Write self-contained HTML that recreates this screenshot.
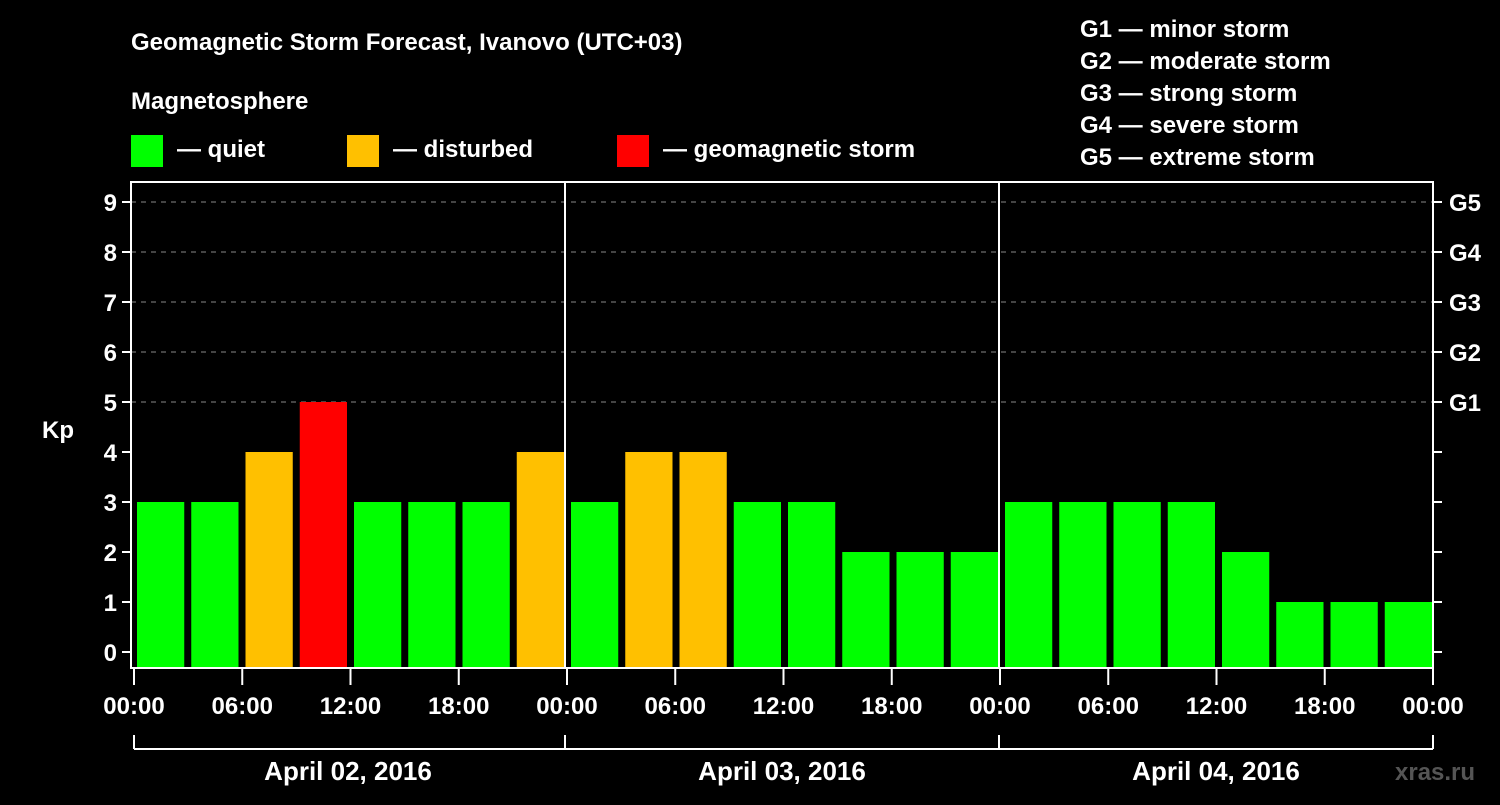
<!DOCTYPE html>
<html><head><meta charset="utf-8"><style>
body{margin:0;background:#000;}
svg text{font-family:"Liberation Sans",Arial,sans-serif;font-weight:bold;fill:#fff;}
</style></head><body>
<svg width="1500" height="800" viewBox="0 0 1500 800">
<rect width="1500" height="800" fill="#000"/>
<text x="131" y="50" font-size="24">Geomagnetic Storm Forecast, Ivanovo (UTC+03)</text>
<text x="131" y="109" font-size="24">Magnetosphere</text>
<g><rect x="131" y="135" width="32" height="32" fill="#00ff00"/><text x="177" y="157" font-size="24">— quiet</text></g>
<g><rect x="347" y="135" width="32" height="32" fill="#ffc000"/><text x="393" y="157" font-size="24">— disturbed</text></g>
<g><rect x="617" y="135" width="32" height="32" fill="#ff0000"/><text x="663" y="157" font-size="24">— geomagnetic storm</text></g>
<g font-size="24">
<text x="1080" y="37">G1 — minor storm</text>
<text x="1080" y="69">G2 — moderate storm</text>
<text x="1080" y="101">G3 — strong storm</text>
<text x="1080" y="133">G4 — severe storm</text>
<text x="1080" y="165">G5 — extreme storm</text>
</g>
<text x="42" y="438" font-size="24">Kp</text>
<text x="1395" y="780" font-size="24" fill="#555" style="fill:#555">xras.ru</text>
<g id="grid"></g><g id="bars"></g><g id="axes"></g>
</svg>
<script>
const kpValues=[3,3,4,5,3,3,3,4,3,4,4,3,3,2,2,2,3,3,3,3,2,1,1,1];
const yTicks=[0,1,2,3,4,5,6,7,8,9];
const gLabels=["G1","G2","G3","G4","G5"];
const gLevels=[5,6,7,8,9];
const xTickLabels=["00:00","06:00","12:00","18:00","00:00","06:00","12:00","18:00","00:00","06:00","12:00","18:00","00:00"];
const dayLabels=["April 02, 2016","April 03, 2016","April 04, 2016"];
const L=131,R=1433,T=182,B=668,NS=24;
const sw=(R-L)/NS;
const y=v=>652-v*50;
const xs=i=>L+i*sw;
const ns="http://www.w3.org/2000/svg";
function mk(tag,attrs,parent,txt){const e=document.createElementNS(ns,tag);for(const k in attrs)e.setAttribute(k,attrs[k]);if(txt!=null)e.textContent=txt;document.getElementById(parent).appendChild(e);return e;}
const col=v=>v>=5?"#ff0000":(v>=4?"#ffc000":"#00ff00");
yTicks.forEach(t=>{
 if(t>=5){const g=mk("line",{x1:L,x2:R,y1:y(t),y2:y(t),stroke:"#888","stroke-dasharray":"5,5","stroke-width":1},"grid");
 
 }
 mk("line",{x1:L-9,x2:L,y1:y(t),y2:y(t),stroke:"#fff","stroke-width":2},"axes");
 mk("line",{x1:R,x2:R+9,y1:y(t),y2:y(t),stroke:"#fff","stroke-width":2},"axes");
 const lb=mk("text",{x:L-14,y:y(t)+9,"font-size":24,"text-anchor":"end"},"axes",String(t));
 
 
});
gLevels.forEach((lv,i)=>{const t=mk("text",{x:R+16,y:y(lv)+9,"font-size":24},"axes",gLabels[i]);
 
 });
kpValues.forEach((v,i)=>{
 const r=mk("rect",{x:xs(i)+6,y:y(v),width:sw-7,height:B-y(v),fill:col(v)},"bars");
 
 
});
mk("rect",{x:L,y:T,width:R-L,height:B-T,fill:"none",stroke:"#fff","stroke-width":2},"axes");
[1,2].forEach(d=>mk("line",{x1:xs(d*8),x2:xs(d*8),y1:T,y2:B,stroke:"#fff","stroke-width":2},"axes"));
xTickLabels.forEach((lab,i)=>{
 const x=L+3+i*2*sw*(R-L-3)/(R-L);
 mk("line",{x1:x,x2:x,y1:B,y2:685,stroke:"#fff","stroke-width":2},"axes");
 const t=mk("text",{x:x,y:714,"font-size":24,"text-anchor":"middle"},"axes",lab);
 
 
});
mk("line",{x1:L+3,x2:R,y1:749,y2:749,stroke:"#fff","stroke-width":2},"axes");
[0,1,2,3].forEach(d=>{const x=d==0?L+3:xs(d*8);mk("line",{x1:x,x2:x,y1:735,y2:749,stroke:"#fff","stroke-width":2},"axes");});
dayLabels.forEach((d,i)=>{const t=mk("text",{x:(xs(i*8)+xs(i*8+8))/2,y:780,"font-size":26,"text-anchor":"middle"},"axes",d);
 
 });
</script>
</body></html>
